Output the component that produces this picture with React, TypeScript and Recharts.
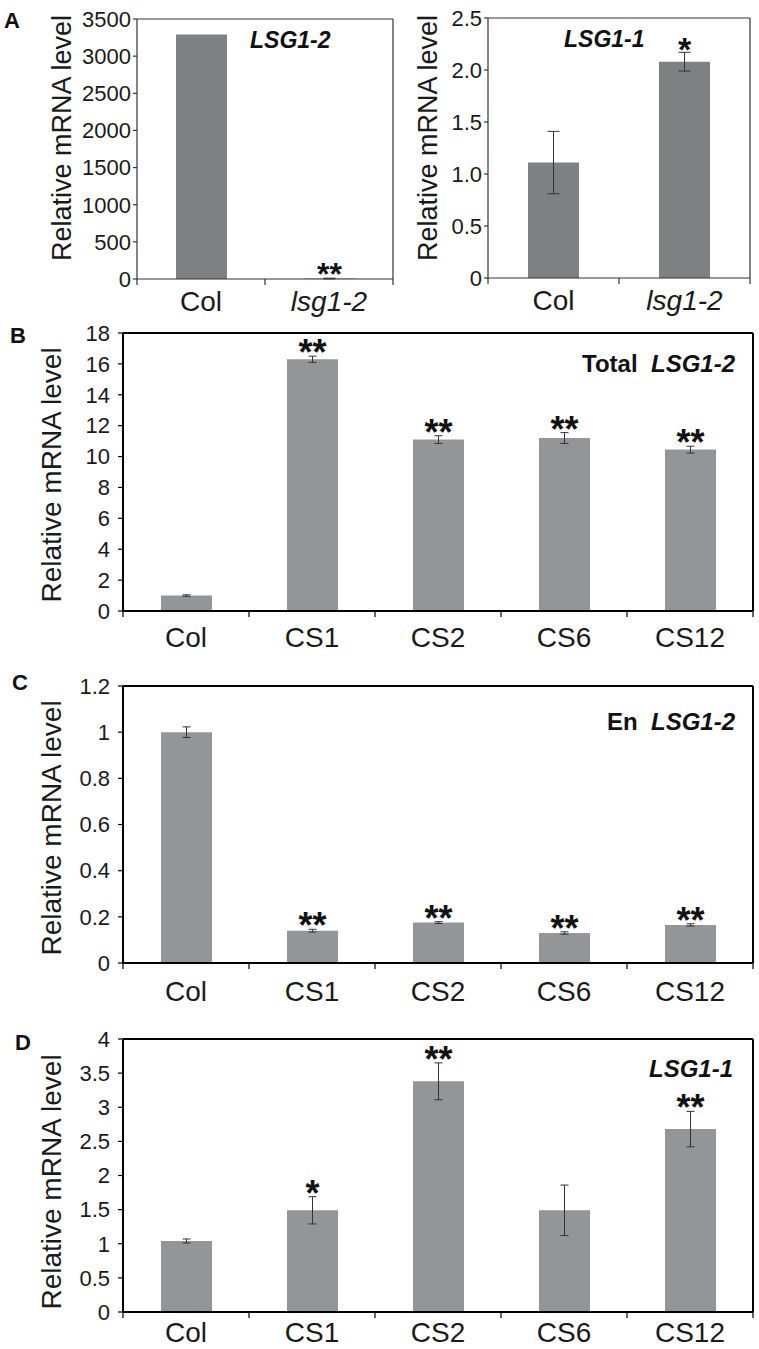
import React from 'react';
import { BarChart, Bar, XAxis, YAxis, ErrorBar, LabelList } from 'recharts';

const FONT = '"Liberation Sans", Arial, Helvetica, sans-serif';

// Panel A: mutant vs Col
const catsA = ['Col', 'lsg1-2'];
const lsg12Mutant = [3290, 6];
const lsg12MutantErr = [null, 5];
const lsg12MutantSig = ['', '**'];
const lsg11Mutant = [1.11, 2.08];
const lsg11MutantErr = [0.3, 0.09];
const lsg11MutantSig = ['', '*'];
const ticksA1 = [0, 500, 1000, 1500, 2000, 2500, 3000, 3500];
const ticksA2 = [0, 0.5, 1, 1.5, 2, 2.5];

// Panels B-D: complemented lines
const lines = ['Col', 'CS1', 'CS2', 'CS6', 'CS12'];
const totalLsg12 = [1.0, 16.3, 11.1, 11.2, 10.45];
const totalLsg12Err = [0.05, 0.2, 0.25, 0.35, 0.22];
const totalLsg12Sig = ['', '**', '**', '**', '**'];
const enLsg12 = [1.0, 0.14, 0.175, 0.13, 0.165];
const enLsg12Err = [0.023, 0.006, 0.004, 0.005, 0.005];
const enLsg12Sig = ['', '**', '**', '**', '**'];
const lsg11Lines = [1.04, 1.49, 3.38, 1.49, 2.68];
const lsg11LinesErr = [0.03, 0.2, 0.27, 0.37, 0.26];
const lsg11LinesSig = ['', '*', '**', '', '**'];
const ticksB = [0, 2, 4, 6, 8, 10, 12, 14, 16, 18];
const ticksC = [0, 0.2, 0.4, 0.6, 0.8, 1, 1.2];
const ticksD = [0, 0.5, 1, 1.5, 2, 2.5, 3, 3.5, 4];

interface PanelProps {
  left: number;
  top: number;
  width: number;
  height: number;
  // plot box inside the chart: top / right / bottom gaps, left = y axis width
  top0: number;
  right0: number;
  bottom0: number;
  yWidth: number;
  cats: string[];
  values: number[];
  errs: (number | null)[];
  sig: string[];
  ticks: number[];
  fmt: (v: number) => string;
  color: string;
  barSize: number;
  axisStroke: string;
  axisWidth: number;
  xLabelDy: number;
  italicCats?: boolean;
  starSize: number;
  starDy: number;
  yTickSize: number;
  yTickMargin: number;
  capWidth: number;
}

function Panel(p: PanelProps) {
  const data = p.cats.map((c, i) => ({ cat: c, v: p.values[i], err: p.errs[i] }));
  const plotW = p.width - p.right0 - p.yWidth;
  const half = plotW / p.cats.length / 2;
  const axisLine = { stroke: p.axisStroke, strokeWidth: p.axisWidth };

  // x tick: label at centre, tick marks at the category boundaries
  const XTick = (t: any) => {
    const { x, y, payload, index } = t;
    const h = payload && payload.offset ? payload.offset : half;
    return (
      <g>
        <line x1={x - h} x2={x - h} y1={y} y2={y + 6} stroke={p.axisStroke} strokeWidth={1.2} />
        {index === p.cats.length - 1 && (
          <line x1={x + h} x2={x + h} y1={y} y2={y + 6} stroke={p.axisStroke} strokeWidth={1.2} />
        )}
        <text
          x={x}
          y={y + p.xLabelDy}
          textAnchor="middle"
          fontSize={28}
          fontFamily={FONT}
          fontStyle={p.italicCats && index > 0 ? 'italic' : 'normal'}
          fill="#1a1a1a"
        >
          {payload.value}
        </text>
      </g>
    );
  };

  // significance stars just above the error bar
  const renderSig = (l: any) => {
    const i = l.index;
    const s = p.sig[i];
    if (!s) return null;
    const vb = l.viewBox || l;
    const v = p.values[i];
    const e = p.errs[i] ?? 0;
    const perUnit = v ? Math.abs(vb.height) / v : 0;
    const errTop = vb.y - e * perUnit;
    return (
      <text
        key={`sig-${i}`}
        x={vb.x + vb.width / 2}
        y={errTop + p.starDy}
        textAnchor="middle"
        fontSize={p.starSize}
        fontWeight="bold"
        fontFamily={FONT}
        fill="#111"
      >
        {s}
      </text>
    );
  };

  return (
    <div style={{ position: 'absolute', left: p.left, top: p.top }}>
      <BarChart
        width={p.width}
        height={p.height}
        data={data}
        margin={{ top: p.top0 - 1, right: p.right0 - 1, bottom: 0, left: 0 }}
        barSize={p.barSize}
      >
        <XAxis
          dataKey="cat"
          height={p.bottom0}
          interval={0}
          tickSize={0}
          tickMargin={0}
          axisLine={axisLine}
          tickLine={false}
          tick={<XTick />}
        />
        <XAxis xAxisId="top" orientation="top" dataKey="cat" height={1} tick={false} tickLine={false} axisLine={axisLine} />
        <YAxis
          width={p.yWidth}
          domain={[0, p.ticks[p.ticks.length - 1]]}
          ticks={p.ticks}
          interval={0}
          allowDataOverflow
          tickFormatter={p.fmt}
          tickSize={p.yTickSize}
          tickMargin={p.yTickMargin}
          axisLine={axisLine}
          tickLine={{ stroke: p.axisStroke, strokeWidth: 1.2 }}
          tick={{ fontSize: 22, fontFamily: FONT, fill: '#1a1a1a' }}
        />
        <YAxis yAxisId="right" orientation="right" width={1} tick={false} tickLine={false} axisLine={axisLine} />
        <Bar dataKey="v" fill={p.color} isAnimationActive={false}>
          <ErrorBar dataKey="err" width={p.capWidth} stroke="#333" strokeWidth={1} direction="y" isAnimationActive={false} />
          <LabelList dataKey="v" content={renderSig} />
        </Bar>
      </BarChart>
    </div>
  );
}

const yLab = (cx: number, cy: number, size: number) => (
  <text
    x={cx}
    y={cy}
    transform={`rotate(-90 ${cx} ${cy})`}
    textAnchor="middle"
    dominantBaseline="central"
    fontSize={size}
    fontFamily={FONT}
    fill="#1a1a1a"
  >
    Relative mRNA level
  </text>
);

const letter = (t: string, x: number, y: number) => (
  <text x={x} y={y} fontSize={22} fontWeight="bold" fontFamily={FONT} fill="#111">
    {t}
  </text>
);

const fmtPlain = (v: number) => String(v);
const fmtOne = (v: number) => (v === 0 ? '0' : v.toFixed(1));

export default function App() {
  const lightGrey = '#939598';
  const darkGrey = '#7f8082';
  return (
    <div style={{ position: 'absolute', left: 0, top: 0, width: 759, height: 1349, background: '#fff' }}>
      <Panel
        left={0} top={0} width={400} height={320}
        top0={19} right0={7} bottom0={41} yWidth={137}
        cats={catsA} values={lsg12Mutant} errs={lsg12MutantErr} sig={lsg12MutantSig}
        ticks={ticksA1} fmt={fmtPlain} color={darkGrey} barSize={51}
        axisStroke="#333" axisWidth={1.2} xLabelDy={32} italicCats starSize={32} starDy={7}
        yTickSize={4} yTickMargin={2} capWidth={6}
      />
      <Panel
        left={390} top={0} width={369} height={320}
        top0={18} right0={9} bottom0={42} yWidth={98}
        cats={catsA} values={lsg11Mutant} errs={lsg11MutantErr} sig={lsg11MutantSig}
        ticks={ticksA2} fmt={fmtOne} color={darkGrey} barSize={51}
        axisStroke="#333" axisWidth={1.2} xLabelDy={32} italicCats starSize={34} starDy={9}
        yTickSize={4} yTickMargin={2} capWidth={6}
      />
      <Panel
        left={0} top={320} width={759} height={340}
        top0={13} right0={6} bottom0={49} yWidth={123}
        cats={lines} values={totalLsg12} errs={totalLsg12Err} sig={totalLsg12Sig}
        ticks={ticksB} fmt={fmtPlain} color={lightGrey} barSize={51}
        axisStroke="#000" axisWidth={2} xLabelDy={36} starSize={36} starDy={9}
        yTickSize={5} yTickMargin={8} capWidth={4}
      />
      <Panel
        left={0} top={670} width={759} height={340}
        top0={16} right0={6} bottom0={47} yWidth={123}
        cats={lines} values={enLsg12} errs={enLsg12Err} sig={enLsg12Sig}
        ticks={ticksC} fmt={fmtPlain} color={lightGrey} barSize={51}
        axisStroke="#000" axisWidth={2} xLabelDy={38} starSize={36} starDy={9}
        yTickSize={5} yTickMargin={8} capWidth={4}
      />
      <Panel
        left={0} top={1020} width={759} height={329}
        top0={19} right0={6} bottom0={37} yWidth={123}
        cats={lines} values={lsg11Lines} errs={lsg11LinesErr} sig={lsg11LinesSig}
        ticks={ticksD} fmt={fmtPlain} color={lightGrey} barSize={51}
        axisStroke="#000" axisWidth={2} xLabelDy={30} starSize={36} starDy={9}
        yTickSize={5} yTickMargin={8} capWidth={4}
      />
      <svg
        width={759}
        height={1349}
        style={{ position: 'absolute', left: 0, top: 0, pointerEvents: 'none' }}
      >
        {letter('A', 4, 28)}
        {letter('B', 10, 343)}
        {letter('C', 12, 690)}
        {letter('D', 15, 1050)}
        {yLab(62, 138, 27)}
        {yLab(428, 138, 27)}
        {yLab(51, 475, 28)}
        {yLab(51, 828, 28)}
        {yLab(51, 1182, 28)}
        <text x={250} y={48} fontSize={23} fontWeight="bold" fontStyle="italic" fontFamily={FONT} fill="#111">
          LSG1-2
        </text>
        <text x={564} y={47} fontSize={23} fontWeight="bold" fontStyle="italic" fontFamily={FONT} fill="#111">
          LSG1-1
        </text>
        <text x={735} y={372} textAnchor="end" fontSize={24} fontWeight="bold" fontFamily={FONT} fill="#111">
          Total{'\u00a0\u00a0'}<tspan fontStyle="italic">LSG1-2</tspan>
        </text>
        <text x={735} y={730} textAnchor="end" fontSize={24} fontWeight="bold" fontFamily={FONT} fill="#111">
          En{'\u00a0\u00a0'}<tspan fontStyle="italic">LSG1-2</tspan>
        </text>
        <text x={733} y={1077} textAnchor="end" fontSize={24} fontWeight="bold" fontStyle="italic" fontFamily={FONT} fill="#111">
          LSG1-1
        </text>
      </svg>
    </div>
  );
}
